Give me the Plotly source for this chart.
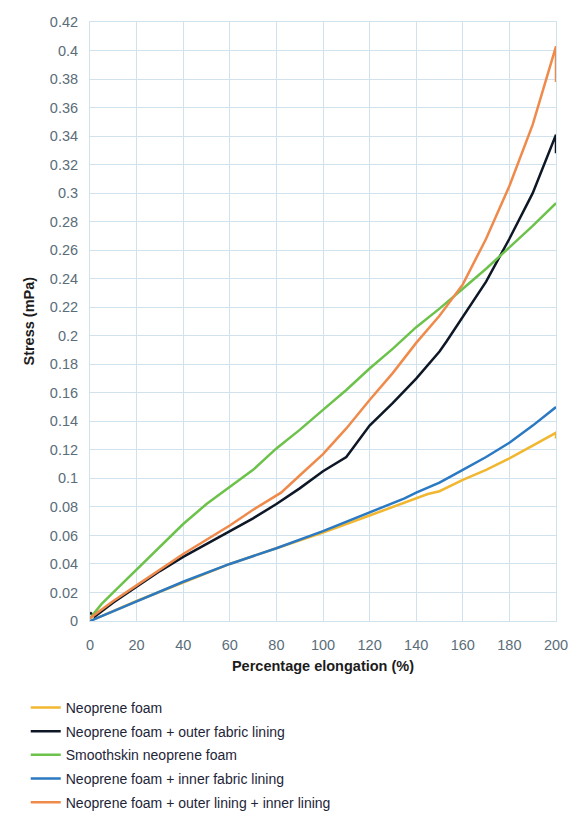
import plotly.graph_objects as go

# Percentage elongation (%) and stress (mPa) per material
names = [
    "Neoprene foam",
    "Neoprene foam + outer fabric lining",
    "Smoothskin neoprene foam",
    "Neoprene foam + inner fabric lining",
    "Neoprene foam + outer lining + inner lining",
]
colors = ["#f2b731", "#0e1726", "#6cc24a", "#2b79c2", "#ef8a4b"]

x_neoprene = [0, 20, 40, 60, 80, 100, 120, 130, 140, 145, 150, 155, 160, 170, 180, 190, 200, 200]
y_neoprene = [0.0, 0.014, 0.027, 0.040, 0.051, 0.062, 0.074, 0.080, 0.086, 0.089, 0.091, 0.095, 0.099, 0.106, 0.114, 0.123, 0.132, 0.128]

x_outer = [0, 2, 10, 20, 30, 40, 50, 60, 70, 80, 90, 100, 110, 120, 130, 140, 150, 153, 160, 170, 180, 190, 200, 200]
y_outer = [0.006, 0.003, 0.013, 0.024, 0.035, 0.045, 0.054, 0.063, 0.072, 0.082, 0.093, 0.105, 0.115, 0.137, 0.153, 0.170, 0.189, 0.196, 0.213, 0.238, 0.268, 0.300, 0.341, 0.328]

x_smooth = [0, 5, 10, 20, 30, 40, 50, 60, 66, 70, 80, 90, 100, 110, 120, 130, 140, 150, 160, 170, 180, 190, 200]
y_smooth = [0.002, 0.012, 0.020, 0.036, 0.052, 0.068, 0.082, 0.094, 0.101, 0.106, 0.121, 0.134, 0.148, 0.162, 0.177, 0.191, 0.206, 0.219, 0.233, 0.247, 0.262, 0.277, 0.293]

x_inner = [0, 20, 40, 60, 80, 100, 120, 135, 140, 150, 160, 170, 180, 190, 200]
y_inner = [0.0, 0.014, 0.0275, 0.040, 0.051, 0.063, 0.076, 0.086, 0.090, 0.097, 0.106, 0.115, 0.125, 0.137, 0.150]

x_both = [0, 10, 20, 30, 40, 50, 60, 70, 82, 90, 100, 110, 120, 130, 140, 150, 160, 170, 180, 190, 200, 200]
y_both = [0.002, 0.014, 0.025, 0.036, 0.047, 0.057, 0.067, 0.078, 0.090, 0.102, 0.117, 0.135, 0.155, 0.174, 0.195, 0.214, 0.236, 0.268, 0.305, 0.348, 0.403, 0.378]

series_x = [x_neoprene, x_outer, x_smooth, x_inner, x_both]
series_y = [y_neoprene, y_outer, y_smooth, y_inner, y_both]

x_ticks = list(range(0, 201, 20))
y_ticks = [round(i * 0.02, 2) for i in range(22)]

x_title = "Percentage elongation (%)"
y_title = "Stress (mPa)"

fig = go.Figure()
for i, (n, c, xs, ys) in enumerate(zip(names, colors, series_x, series_y)):
    fig.add_trace(go.Scatter(
        x=xs, y=ys, mode="lines", name=n, legendgroup=str(i),
        line=dict(color=c, width=2.5),
    ))

grid = "#cfe2ee"
title_font = dict(family="Liberation Sans, Arial, sans-serif", size=14.5, color="#1c1c1c")
tick_font = dict(family="Liberation Sans, Arial, sans-serif", size=14.5, color="#5a6d79")
fig.update_layout(
    width=572, height=813,
    margin=dict(l=90, r=16, t=22, b=192, autoexpand=False),
    paper_bgcolor="white", plot_bgcolor="white",
    xaxis=dict(
        range=[0, 200], tickvals=x_ticks, showgrid=True, gridcolor=grid, gridwidth=1,
        zeroline=False, showline=True, linecolor=grid, mirror=True, tickangle=0,
        tickfont=tick_font, ticks="", ticklabelstandoff=11, automargin=True,
        title=dict(text="<b>" + x_title + "</b>", font=title_font, standoff=8),
    ),
    yaxis=dict(
        range=[0, 0.42], tickvals=y_ticks, showgrid=True, gridcolor=grid, gridwidth=1,
        zeroline=False, showline=True, linecolor=grid, mirror=True, automargin=True,
        tickfont=tick_font, ticks="", ticklabelstandoff=8,
    ),
    legend=dict(
        xref="container", yref="container", x=0.045, y=0.149,
        xanchor="left", yanchor="top", orientation="v",
        font=dict(family="Liberation Sans, Arial, sans-serif", size=14, color="#1e2538"),
        tracegroupgap=2.5, itemwidth=30, bgcolor="rgba(0,0,0,0)",
    ),
    showlegend=True,
    annotations=[dict(
        text="<b>" + y_title + "</b>", xref="paper", yref="paper",
        x=-0.133, y=0.5, xanchor="center", yanchor="middle",
        textangle=-90, showarrow=False, font=title_font,
    )],
)

fig.write_html("out.html")
